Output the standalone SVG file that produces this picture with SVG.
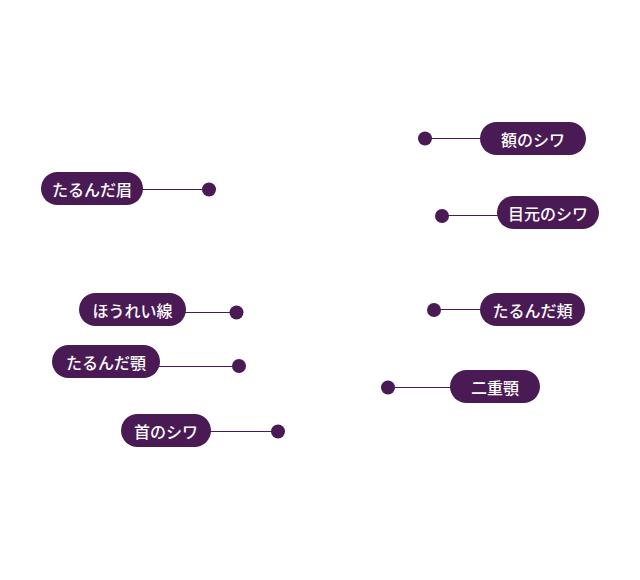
<svg xmlns="http://www.w3.org/2000/svg" width="640" height="580" viewBox="0 0 640 580">
<style>
.pill{fill:#4a1a55}
.dot{fill:#4a1a55}
.ln{stroke:#4a1a55;stroke-width:1;fill:none}
.t{fill:#ffffff;font-family:"Noto Sans CJK JP","Noto Sans",sans-serif;font-size:16px;font-weight:500;text-anchor:middle;dominant-baseline:central}
</style>
<rect width="640" height="580" fill="#ffffff"/>
<g id="connectors">
<line class="ln" x1="425" y1="138.5" x2="482" y2="138.5"/>
<line class="ln" x1="442" y1="215.5" x2="499" y2="215.5"/>
<line class="ln" x1="141" y1="189.5" x2="209" y2="189.5"/>
<line class="ln" x1="184" y1="312.5" x2="236" y2="312.5"/>
<line class="ln" x1="158" y1="366.5" x2="239" y2="366.5"/>
<line class="ln" x1="209" y1="431.5" x2="278" y2="431.5"/>
<line class="ln" x1="434" y1="309.5" x2="482" y2="309.5"/>
<line class="ln" x1="388" y1="387.5" x2="452" y2="387.5"/>
</g>
<g id="n1"><rect class="pill" x="480" y="122" width="106" height="33" rx="16.5"/><text class="t" x="533" y="138.5">額のシワ</text><circle class="dot" cx="425" cy="138.5" r="7"/></g>
<g id="n2"><rect class="pill" x="497" y="196" width="102" height="33" rx="16.5"/><text class="t" x="548" y="212.5">目元のシワ</text><circle class="dot" cx="442" cy="216" r="7"/></g>
<g id="n3"><rect class="pill" x="41" y="172" width="102" height="33" rx="16.5"/><text class="t" x="92" y="188.5">たるんだ眉</text><circle class="dot" cx="209" cy="189.5" r="7"/></g>
<g id="n4"><rect class="pill" x="79" y="293" width="107" height="33" rx="16.5"/><text class="t" x="132.5" y="309.5">ほうれい線</text><circle class="dot" cx="236.5" cy="312.5" r="7"/></g>
<g id="n5"><rect class="pill" x="52" y="345" width="108" height="33" rx="16.5"/><text class="t" x="106" y="361.5">たるんだ顎</text><circle class="dot" cx="239" cy="366" r="7"/></g>
<g id="n6"><rect class="pill" x="121" y="414" width="90" height="33" rx="16.5"/><text class="t" x="166" y="430.5">首のシワ</text><circle class="dot" cx="278" cy="431.5" r="7"/></g>
<g id="n7"><rect class="pill" x="480" y="293" width="105" height="33" rx="16.5"/><text class="t" x="532.5" y="309.5">たるんだ頬</text><circle class="dot" cx="434" cy="310" r="7"/></g>
<g id="n8"><rect class="pill" x="450" y="370" width="90" height="33" rx="16.5"/><text class="t" x="495" y="386.5">二重顎</text><circle class="dot" cx="388" cy="387.5" r="7"/></g>
</svg>
